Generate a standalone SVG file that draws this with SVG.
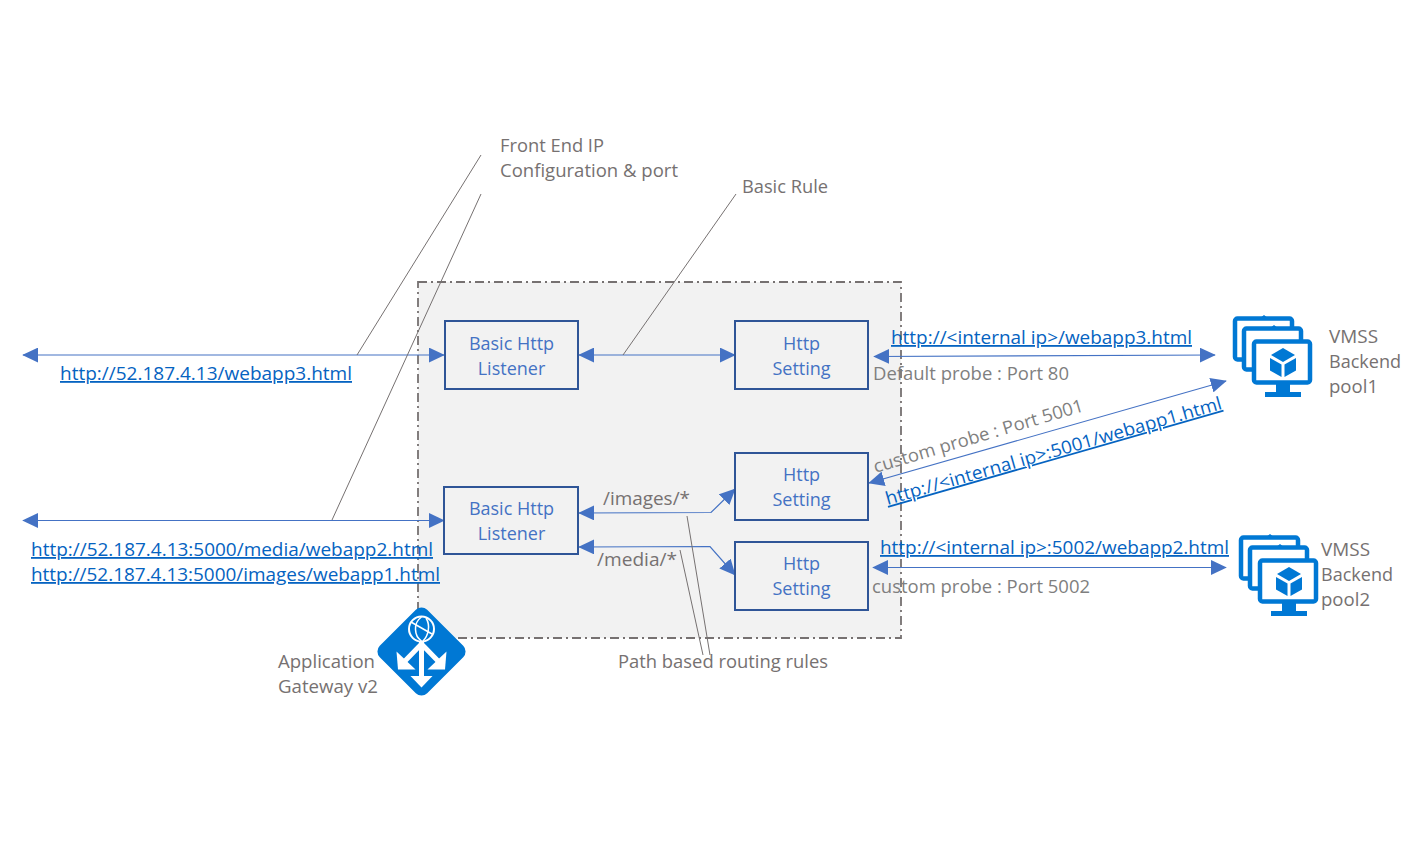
<svg xmlns="http://www.w3.org/2000/svg" width="1422" height="845" viewBox="0 0 1422 845">
<style>
text{font-family:"Open Sans","Noto Sans","Liberation Sans",sans-serif;font-size:18px}
.g{fill:#767171}
.lg{fill:#7f7f7f}
.b{fill:#4472c4;text-anchor:middle}
.u{fill:#0563c1;text-decoration:underline}
.box{fill:none;stroke:#2f5597;stroke-width:2}
.c{fill:none;stroke:#4472c4;stroke-width:1.200;marker-start:url(#a);marker-end:url(#a)}
.l{fill:none;stroke:#767171;stroke-width:1}
.ic{fill:#0078d4}
.m{fill:#fff;stroke:#0078d4;stroke-width:4.500}
</style>
<defs>
<marker id="a" viewBox="0 0 10 10" refX="9.500" refY="5" markerUnits="userSpaceOnUse" markerWidth="16" markerHeight="15" orient="auto-start-reverse" preserveAspectRatio="none"><path d="M0 0L10 5L0 10Z" fill="#4472c4"/></marker>
<g id="vmss">
<rect x="-50" y="-42.500" width="57" height="41" rx="2.500" class="m"/>
<path d="M-26-42L-21-46L-16-42Z" fill="#0078d4"/>
<rect x="-41" y="-32.500" width="57" height="41" rx="2.500" class="m"/>
<path d="M-16-32L-11-36L-6-32Z" fill="#0078d4"/>
<rect x="-31" y="-19.500" width="56" height="41" rx="2.500" class="m"/>
<path d="M-9 23H5V31H16V36H-20V31H-9Z" fill="#0078d4"/>
<path d="M-2-13L-14-6L-2 1L10-6Z" fill="#0078d4"/>
<path d="M-15-3L-3.500 3.500V16L-15 9.500Z" fill="#0078d4"/>
<path d="M11-3L-.500 3.500V16L11 9.500Z" fill="#0078d4"/>
</g>
</defs>
<g id="gateway-frame">
<rect x="418" y="282" width="483" height="356" fill="#f2f2f2"/>
<rect x="418" y="282" width="483" height="356" fill="none" stroke="#767171" stroke-width="1.800" stroke-dasharray="9 4 2 4"/>
</g>
<g id="connectors">
<path class="c" d="M23 355H444"/>
<path class="c" d="M23 520.500H444"/>
<path class="c" d="M579 355H735"/>
<path class="c" d="M579 513L711 512.500L735 489"/>
<path class="c" d="M579 547L710 546.500L735 575"/>
<path class="c" d="M874 356.500L1215 355"/>
<path class="c" d="M869 483L1226 381"/>
<path class="c" d="M873 567.500H1226"/>
<path class="l" d="M357 355L481 155M332 520L481 194M623 355L736 194M687 516L710 655M680 550L703 655"/>
</g>
<g id="listener-1"><rect class="box" x="445" y="321" width="133" height="68"/><text class="b" x="511.500" y="350">Basic Http</text><text class="b" x="511.500" y="375">Listener</text></g>
<g id="setting-1"><rect class="box" x="735" y="321" width="133" height="68"/><text class="b" x="801.500" y="350">Http</text><text class="b" x="801.500" y="375">Setting</text></g>
<g id="listener-2"><rect class="box" x="444" y="487" width="134" height="67"/><text class="b" x="511.500" y="515">Basic Http</text><text class="b" x="511.500" y="540">Listener</text></g>
<g id="setting-2"><rect class="box" x="735" y="453" width="133" height="67"/><text class="b" x="801.500" y="481">Http</text><text class="b" x="801.500" y="506">Setting</text></g>
<g id="setting-3"><rect class="box" x="735" y="542" width="133" height="68"/><text class="b" x="801.500" y="570">Http</text><text class="b" x="801.500" y="595">Setting</text></g>
<g id="app-gateway">
<rect x="388" y="618" width="67" height="67" rx="8" transform="rotate(45 421.500 651.500)" class="ic"/>
<circle cx="421.500" cy="629" r="12.500" fill="none" stroke="#fff" stroke-width="2"/>
<path d="M411 622L432 634M421.500 617C413 623 414 636 421.500 641M426 618C431 626 428 636 423 641" fill="none" stroke="#fff" stroke-width="1.500"/>
<path d="M421.500 642V678" fill="none" stroke="#fff" stroke-width="5"/>
<path d="M421.500 644L404 662M421.500 644L439 662" fill="none" stroke="#fff" stroke-width="5"/>
<path d="M410.500 676H432.500L421.500 687.500Z" fill="#fff"/>
<path d="M396.500 651.500L398 669.500H415.500Z" fill="#fff"/>
<path d="M446.500 651.500L445 669.500H427.500Z" fill="#fff"/>
</g>
<g id="vmss-1"><use href="#vmss" x="1285" y="361"/></g>
<g id="vmss-2"><use href="#vmss" x="1291" y="580"/></g>
<g id="labels">
<text class="g" x="500" y="152" textLength="104" lengthAdjust="spacingAndGlyphs">Front End IP</text>
<text class="g" x="500" y="177" textLength="178" lengthAdjust="spacingAndGlyphs">Configuration &amp; port</text>
<text class="g" x="742" y="193" textLength="86" lengthAdjust="spacingAndGlyphs">Basic Rule</text>
<text class="u" x="60" y="380" textLength="292" lengthAdjust="spacingAndGlyphs">http://52.187.4.13/webapp3.html</text>
<text class="u" x="31" y="556" textLength="402" lengthAdjust="spacingAndGlyphs">http://52.187.4.13:5000/media/webapp2.html</text>
<text class="u" x="31" y="581" textLength="409" lengthAdjust="spacingAndGlyphs">http://52.187.4.13:5000/images/webapp1.html</text>
<text class="g" x="603" y="505" textLength="87" lengthAdjust="spacingAndGlyphs">/images/*</text>
<text class="g" x="597" y="566" textLength="80" lengthAdjust="spacingAndGlyphs">/media/*</text>
<text class="g" x="618" y="668" textLength="210" lengthAdjust="spacingAndGlyphs">Path based routing rules</text>
<text class="g" x="278" y="668" textLength="97" lengthAdjust="spacingAndGlyphs">Application</text>
<text class="g" x="278" y="693" textLength="100" lengthAdjust="spacingAndGlyphs">Gateway v2</text>
<text class="u" x="891" y="344" textLength="301" lengthAdjust="spacingAndGlyphs">http://&lt;internal ip&gt;/webapp3.html</text>
<text class="lg" x="873" y="380" textLength="196" lengthAdjust="spacingAndGlyphs">Default probe : Port 80</text>
<text class="lg" transform="translate(875.500 473) rotate(-16.500)" textLength="218" lengthAdjust="spacingAndGlyphs">custom probe : Port 5001</text>
<text class="u" transform="translate(887.500 505) rotate(-16)" textLength="349" lengthAdjust="spacingAndGlyphs">http://&lt;internal ip&gt;:5001/webapp1.html</text>
<text class="u" x="880" y="554" textLength="349" lengthAdjust="spacingAndGlyphs">http://&lt;internal ip&gt;:5002/webapp2.html</text>
<text class="lg" x="872" y="593" textLength="218" lengthAdjust="spacingAndGlyphs">custom probe : Port 5002</text>
<text class="g" x="1329" y="343" textLength="49" lengthAdjust="spacingAndGlyphs">VMSS</text>
<text class="g" x="1329" y="368" textLength="72" lengthAdjust="spacingAndGlyphs">Backend</text>
<text class="g" x="1329" y="393" textLength="49" lengthAdjust="spacingAndGlyphs">pool1</text>
<text class="g" x="1321" y="556" textLength="49" lengthAdjust="spacingAndGlyphs">VMSS</text>
<text class="g" x="1321" y="581" textLength="72" lengthAdjust="spacingAndGlyphs">Backend</text>
<text class="g" x="1321" y="606" textLength="49" lengthAdjust="spacingAndGlyphs">pool2</text>
</g>
</svg>
